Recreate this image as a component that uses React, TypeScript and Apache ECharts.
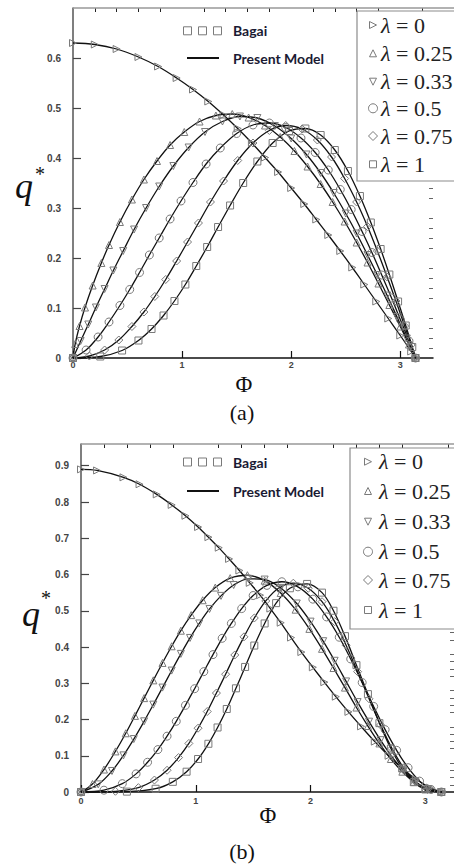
import React, { useEffect, useRef } from 'react';
import * as echarts from 'echarts';

// ---------- labels ----------
const LAMBDA_LABELS = ['0', '0.25', '0.33', '0.5', '0.75', '1'];
const X_TICKS = [0, 1, 2, 3];
const X_MINOR = [0.2, 0.4, 0.6, 0.8, 1.2, 1.4, 1.6, 1.8, 2.2, 2.4, 2.6, 2.8, 3.2];
const YA_TICKS = [0, 0.1, 0.2, 0.3, 0.4, 0.5, 0.6];
const YA_MINOR = [0.02, 0.04, 0.06, 0.08, 0.12, 0.14, 0.16, 0.18, 0.22, 0.24, 0.26, 0.28, 0.32, 0.34, 0.36, 0.38, 0.42, 0.44, 0.46, 0.48, 0.52, 0.54, 0.56, 0.58, 0.62, 0.64, 0.66, 0.68];
const YB_TICKS = [0, 0.1, 0.2, 0.3, 0.4, 0.5, 0.6, 0.7, 0.8, 0.9];
const YB_MINOR = [0.02, 0.04, 0.06, 0.08, 0.12, 0.14, 0.16, 0.18, 0.22, 0.24, 0.26, 0.28, 0.32, 0.34, 0.36, 0.38, 0.42, 0.44, 0.46, 0.48, 0.52, 0.54, 0.56, 0.58, 0.62, 0.64, 0.66, 0.68, 0.72, 0.74, 0.76, 0.78, 0.82, 0.84, 0.86, 0.88, 0.92, 0.94];

// ---------- panel (a) data: [Phi, q*] ----------
const A_L0 = [[0, 0.63], [0.2, 0.627], [0.4, 0.618], [0.6, 0.602], [0.78, 0.583], [0.95, 0.56], [1.1, 0.537], [1.24, 0.513], [1.38, 0.486], [1.51, 0.459], [1.64, 0.43], [1.76, 0.401], [1.88, 0.372], [2.0, 0.34], [2.12, 0.308], [2.23, 0.277], [2.34, 0.246], [2.45, 0.214], [2.56, 0.181], [2.67, 0.147], [2.78, 0.113], [2.89, 0.079], [3.0, 0.045], [3.1, 0.013], [3.14, 0]];
const A_L025 = [[0, 0], [0.02, 0.028], [0.06, 0.064], [0.11, 0.101], [0.18, 0.145], [0.26, 0.19], [0.33, 0.226], [0.43, 0.272], [0.54, 0.317], [0.65, 0.357], [0.77, 0.394], [0.89, 0.426], [1.02, 0.452], [1.16, 0.473], [1.31, 0.485], [1.46, 0.488], [1.61, 0.481], [1.76, 0.465], [1.9, 0.442], [2.03, 0.414], [2.15, 0.383], [2.27, 0.348], [2.38, 0.312], [2.49, 0.273], [2.6, 0.231], [2.7, 0.191], [2.8, 0.149], [2.9, 0.106], [3.0, 0.063], [3.08, 0.027], [3.14, 0]];
const A_L033 = [[0, 0], [0.07, 0.034], [0.14, 0.067], [0.21, 0.101], [0.29, 0.138], [0.37, 0.175], [0.46, 0.214], [0.56, 0.257], [0.67, 0.3], [0.79, 0.343], [0.92, 0.384], [1.06, 0.421], [1.21, 0.452], [1.37, 0.473], [1.53, 0.483], [1.69, 0.48], [1.85, 0.464], [2.0, 0.439], [2.14, 0.407], [2.27, 0.37], [2.39, 0.33], [2.5, 0.289], [2.6, 0.249], [2.7, 0.206], [2.79, 0.166], [2.88, 0.125], [2.97, 0.082], [3.06, 0.039], [3.14, 0]];
const A_L05 = [[0, 0], [0.12, 0.016], [0.23, 0.042], [0.33, 0.072], [0.43, 0.105], [0.52, 0.137], [0.61, 0.171], [0.7, 0.206], [0.79, 0.24], [0.89, 0.278], [0.99, 0.314], [1.1, 0.351], [1.22, 0.388], [1.35, 0.42], [1.5, 0.449], [1.65, 0.466], [1.8, 0.47], [1.95, 0.461], [2.09, 0.44], [2.22, 0.411], [2.34, 0.376], [2.45, 0.337], [2.55, 0.297], [2.65, 0.253], [2.74, 0.211], [2.83, 0.166], [2.92, 0.12], [3.0, 0.077], [3.08, 0.034], [3.14, 0]];
const A_L075 = [[0, 0], [0.15, 0.004], [0.29, 0.016], [0.42, 0.036], [0.54, 0.063], [0.65, 0.092], [0.75, 0.123], [0.85, 0.157], [0.95, 0.194], [1.05, 0.232], [1.15, 0.27], [1.26, 0.312], [1.38, 0.354], [1.51, 0.395], [1.65, 0.43], [1.8, 0.455], [1.95, 0.465], [2.1, 0.458], [2.24, 0.436], [2.37, 0.402], [2.49, 0.359], [2.6, 0.312], [2.7, 0.263], [2.79, 0.214], [2.88, 0.162], [2.96, 0.114], [3.04, 0.064], [3.1, 0.026], [3.14, 0]];
const A_L1 = [[0, 0], [0.25, 0.003], [0.45, 0.015], [0.6, 0.035], [0.72, 0.058], [0.83, 0.085], [0.93, 0.114], [1.03, 0.147], [1.13, 0.184], [1.23, 0.222], [1.33, 0.262], [1.44, 0.305], [1.56, 0.35], [1.69, 0.393], [1.83, 0.43], [1.98, 0.454], [2.13, 0.459], [2.27, 0.446], [2.4, 0.416], [2.52, 0.374], [2.63, 0.324], [2.73, 0.271], [2.82, 0.218], [2.9, 0.167], [2.98, 0.113], [3.05, 0.065], [3.11, 0.022], [3.14, 0]];

// ---------- panel (b) data: [Phi, q*] ----------
const B_L0 = [[0, 0.89], [0.14, 0.887], [0.37, 0.868], [0.51, 0.849], [0.66, 0.821], [0.79, 0.792], [0.91, 0.762], [1.02, 0.731], [1.11, 0.703], [1.2, 0.674], [1.29, 0.643], [1.38, 0.611], [1.47, 0.577], [1.56, 0.543], [1.65, 0.506], [1.74, 0.467], [1.83, 0.426], [1.92, 0.386], [2.02, 0.344], [2.12, 0.303], [2.22, 0.263], [2.33, 0.221], [2.44, 0.181], [2.56, 0.139], [2.68, 0.1], [2.8, 0.065], [2.92, 0.035], [3.04, 0.012], [3.14, 0]];
const B_L025 = [[0, 0], [0.1, 0.022], [0.2, 0.062], [0.3, 0.112], [0.39, 0.162], [0.47, 0.21], [0.55, 0.259], [0.63, 0.308], [0.71, 0.356], [0.79, 0.402], [0.87, 0.445], [0.96, 0.488], [1.06, 0.529], [1.17, 0.564], [1.3, 0.59], [1.45, 0.598], [1.6, 0.583], [1.74, 0.549], [1.87, 0.503], [1.99, 0.45], [2.1, 0.395], [2.2, 0.342], [2.3, 0.288], [2.4, 0.233], [2.5, 0.182], [2.6, 0.134], [2.7, 0.091], [2.8, 0.056], [2.9, 0.028], [3.0, 0.01], [3.14, 0]];
const B_L033 = [[0, 0], [0.15, 0.021], [0.27, 0.058], [0.37, 0.101], [0.46, 0.146], [0.55, 0.195], [0.63, 0.241], [0.71, 0.288], [0.79, 0.335], [0.87, 0.381], [0.95, 0.425], [1.03, 0.465], [1.12, 0.505], [1.22, 0.541], [1.33, 0.571], [1.46, 0.588], [1.6, 0.586], [1.74, 0.563], [1.88, 0.52], [2.0, 0.47], [2.11, 0.416], [2.21, 0.362], [2.31, 0.305], [2.41, 0.248], [2.51, 0.194], [2.61, 0.143], [2.71, 0.097], [2.81, 0.059], [2.91, 0.029], [3.02, 0.008], [3.14, 0]];
const B_L05 = [[0, 0], [0.2, 0.005], [0.36, 0.023], [0.48, 0.05], [0.58, 0.082], [0.67, 0.117], [0.75, 0.154], [0.83, 0.195], [0.91, 0.239], [0.99, 0.285], [1.07, 0.332], [1.15, 0.379], [1.23, 0.424], [1.31, 0.465], [1.4, 0.506], [1.5, 0.542], [1.62, 0.57], [1.75, 0.58], [1.89, 0.566], [2.02, 0.532], [2.14, 0.483], [2.25, 0.427], [2.35, 0.367], [2.45, 0.302], [2.55, 0.236], [2.65, 0.172], [2.75, 0.115], [2.85, 0.067], [2.95, 0.03], [3.05, 0.007], [3.14, 0]];
const B_L075 = [[0, 0], [0.3, 0.002], [0.5, 0.012], [0.64, 0.033], [0.75, 0.06], [0.85, 0.095], [0.94, 0.134], [1.02, 0.176], [1.1, 0.222], [1.18, 0.273], [1.26, 0.325], [1.34, 0.378], [1.42, 0.428], [1.51, 0.48], [1.61, 0.527], [1.72, 0.562], [1.85, 0.576], [1.98, 0.562], [2.1, 0.525], [2.21, 0.47], [2.31, 0.405], [2.41, 0.332], [2.51, 0.257], [2.61, 0.185], [2.71, 0.12], [2.81, 0.067], [2.91, 0.03], [3.02, 0.007], [3.14, 0]];
const B_L1 = [[0, 0], [0.4, 0.001], [0.65, 0.009], [0.8, 0.028], [0.92, 0.056], [1.02, 0.091], [1.11, 0.133], [1.19, 0.178], [1.27, 0.229], [1.35, 0.286], [1.43, 0.345], [1.51, 0.404], [1.6, 0.465], [1.7, 0.521], [1.82, 0.562], [1.97, 0.574], [2.1, 0.55], [2.2, 0.5], [2.3, 0.43], [2.4, 0.35], [2.5, 0.27], [2.6, 0.19], [2.7, 0.12], [2.8, 0.065], [2.9, 0.027], [3.0, 0.007], [3.14, 0]];

const A_SERIES = [A_L0, A_L025, A_L033, A_L05, A_L075, A_L1];
const B_SERIES = [B_L0, B_L025, B_L033, B_L05, B_L075, B_L1];

// ---------- styles ----------
const SYMBOLS = ['path://M0,0L10,5L0,10Z', 'triangle', 'path://M0,0L10,0L5,10Z', 'circle', 'diamond', 'rect'];
const SYMBOL_SIZES = [7, 7, 7, 8, 8, 7];
const MARK = '#7a7a7a';
const SERIF = '"Liberation Serif", "DejaVu Serif", serif';
const SANS = '"Liberation Sans", Arial, sans-serif';

function makeSeries(list: number[][][], xi: number, yi: number) {
  return list.map((d, i) => ({
    type: 'line',
    xAxisIndex: xi,
    yAxisIndex: yi,
    data: d,
    smooth: 0.35,
    symbol: SYMBOLS[i],
    symbolSize: SYMBOL_SIZES[i],
    showSymbol: true,
    showAllSymbol: true,
    lineStyle: { color: '#111', width: 1.3 },
    itemStyle: { color: 'rgba(255,255,255,0)', borderColor: MARK, borderWidth: 1 },
    emphasis: { disabled: true },
    silent: true,
    clip: false,
    z: 3,
  }));
}

function mainX(grid: number, max: number, margin: number) {
  return {
    type: 'value', gridIndex: grid, min: 0, max,
    axisLine: { show: true, onZero: false, lineStyle: { color: '#111', width: 1.5 } },
    axisTick: { show: true, inside: true, length: 7, customValues: X_TICKS, lineStyle: { color: '#111', width: 1.2 } },
    axisLabel: { show: true, customValues: X_TICKS, margin, fontSize: 9, fontWeight: 'bold', color: '#444', fontFamily: SANS },
    splitLine: { show: false },
  };
}
function minorX(grid: number, max: number) {
  return {
    type: 'value', gridIndex: grid, min: 0, max,
    axisLine: { show: false, onZero: false },
    axisTick: { show: true, inside: true, length: 4, customValues: X_MINOR, lineStyle: { color: '#222', width: 1 } },
    axisLabel: { show: false },
    splitLine: { show: false },
  };
}
function mainY(grid: number, max: number, ticks: number[]) {
  return {
    type: 'value', gridIndex: grid, min: 0, max,
    axisLine: { show: true, onZero: false, lineStyle: { color: '#555', width: 1.5 } },
    axisTick: { show: true, inside: true, length: 8, customValues: ticks, lineStyle: { color: '#444', width: 1.2 } },
    axisLabel: { show: true, customValues: ticks, margin: 12, fontSize: 10, fontWeight: 'bold', color: '#444', fontFamily: SANS },
    splitLine: { show: false },
  };
}
function minorY(grid: number, max: number, ticks: number[]) {
  return {
    type: 'value', gridIndex: grid, min: 0, max,
    axisLine: { show: false, onZero: false },
    axisTick: { show: true, inside: true, length: 4, customValues: ticks, lineStyle: { color: '#666', width: 1 } },
    axisLabel: { show: false },
    splitLine: { show: false },
  };
}

function legendSymbol(i: number, cx: number, cy: number, s: number) {
  const st = { fill: 'none', stroke: MARK, lineWidth: 1 };
  const h = s / 2;
  if (i === 0) return { type: 'polygon', shape: { points: [[cx - h, cy - h], [cx + h, cy], [cx - h, cy + h]] }, style: st };
  if (i === 1) return { type: 'polygon', shape: { points: [[cx - h, cy + h], [cx, cy - h], [cx + h, cy + h]] }, style: st };
  if (i === 2) return { type: 'polygon', shape: { points: [[cx - h, cy - h], [cx + h, cy - h], [cx, cy + h]] }, style: st };
  if (i === 3) return { type: 'circle', shape: { cx, cy, r: h + 1 }, style: st };
  if (i === 4) return { type: 'polygon', shape: { points: [[cx, cy - h - 1], [cx + h + 1, cy], [cx, cy + h + 1], [cx - h - 1, cy]] }, style: st };
  return { type: 'rect', shape: { x: cx - h, y: cy - h, width: s, height: s }, style: st };
}

function lambdaLegend(boxX: number, boxY: number, boxH: number, symX: number, textX: number, rows: number[]) {
  const els: any[] = [
    { type: 'rect', shape: { x: boxX, y: boxY, width: 140, height: boxH }, style: { fill: '#fff', stroke: '#8c8c8c', lineWidth: 1.2 }, z: 10 },
  ];
  rows.forEach((y, i) => {
    els.push({ ...legendSymbol(i, symX, y, 7), z: 11 });
    els.push({
      type: 'text', x: textX, y, z: 11,
      style: {
        text: '{i|λ} = ' + LAMBDA_LABELS[i],
        fontFamily: SERIF, fontSize: 22, fill: '#222', align: 'left', verticalAlign: 'middle',
        rich: { i: { fontStyle: 'italic', fontFamily: SERIF, fontSize: 22, fill: '#222' } },
      },
    });
  });
  return els;
}

function sourceLegend(y1: number, y2: number) {
  const els: any[] = [];
  [187.5, 202.5, 217.5].forEach((cx) => {
    els.push({ type: 'rect', shape: { x: cx - 4, y: y1 - 4, width: 8, height: 8 }, style: { fill: 'none', stroke: MARK, lineWidth: 1 }, z: 10 });
  });
  els.push({ type: 'text', x: 233, y: y1, z: 10, style: { text: 'Bagai', fontFamily: 'Lato, "Open Sans", sans-serif', fontWeight: 'bold', fontSize: 14, fill: '#1a1a33', align: 'left', verticalAlign: 'middle' } });
  els.push({ type: 'line', shape: { x1: 187, y1: y2, x2: 219, y2: y2 }, style: { stroke: '#111', lineWidth: 2 }, z: 10 });
  els.push({ type: 'text', x: 233, y: y2, z: 10, style: { text: 'Present Model', fontFamily: 'Lato, "Open Sans", sans-serif', fontWeight: 'bold', fontSize: 14, fill: '#1a1a33', align: 'left', verticalAlign: 'middle' } });
  return els;
}

function captions() {
  const t = (text: string, x: number, y: number, size: number, italic = false) => ({
    type: 'text', x, y, z: 10,
    style: { text, fontFamily: SERIF, fontSize: size, fontStyle: italic ? 'italic' : 'normal', fill: '#111', align: 'center', verticalAlign: 'middle' },
  });
  return [
    t('q', 24, 186, 36, true), t('*', 40, 174, 20),
    t('Φ', 244, 384, 23), t('(a)', 242, 412, 22),
    t('q', 31, 614, 36, true), t('*', 46, 598, 20),
    t('Φ', 268, 815, 23), t('(b)', 242, 851, 22),
  ];
}

export default function App() {
  const ref = useRef<HTMLDivElement>(null);
  useEffect(() => {
    if (!ref.current) return;
    const chart = echarts.init(ref.current, null, { renderer: 'svg' });
    const option: any = {
      animation: false,
      backgroundColor: '#fff',
      grid: [
        { left: 73, top: 8, width: 360, height: 350, containLabel: false, outerBoundsMode: 'none' },
        { left: 81, top: 444, width: 373, height: 348, containLabel: false, outerBoundsMode: 'none' },
      ],
      xAxis: [mainX(0, 3.3, 2), minorX(0, 3.3), mainX(1, 3.25, 4), minorX(1, 3.25)],
      yAxis: [mainY(0, 0.7, YA_TICKS), minorY(0, 0.7, YA_MINOR), mainY(1, 0.96, YB_TICKS), minorY(1, 0.96, YB_MINOR)],
      series: [...makeSeries(A_SERIES, 0, 0), ...makeSeries(B_SERIES, 2, 2)],
      graphic: [
        { type: 'line', shape: { x1: 73, y1: 8, x2: 454, y2: 8 }, style: { stroke: '#999', lineWidth: 1.5 }, z: 5 },
        { type: 'line', shape: { x1: 81, y1: 444, x2: 454, y2: 444 }, style: { stroke: '#999', lineWidth: 1.5 }, z: 5 },
        ...sourceLegend(30.8, 58),
        ...sourceLegend(462, 491),
        ...lambdaLegend(357, 11, 170, 373, 381, [25, 53.3, 81.7, 108.3, 136, 164.3]),
        ...lambdaLegend(350, 448, 181, 368, 379, [461.7, 491, 521.7, 551.7, 580, 610]),
        ...captions(),
      ],
    };
    chart.setOption(option);
    return () => chart.dispose();
  }, []);
  return (
    <div
      ref={ref}
      style={{ position: 'fixed', left: 0, top: 0, width: 454, height: 864, background: '#fff' }}
    />
  );
}
